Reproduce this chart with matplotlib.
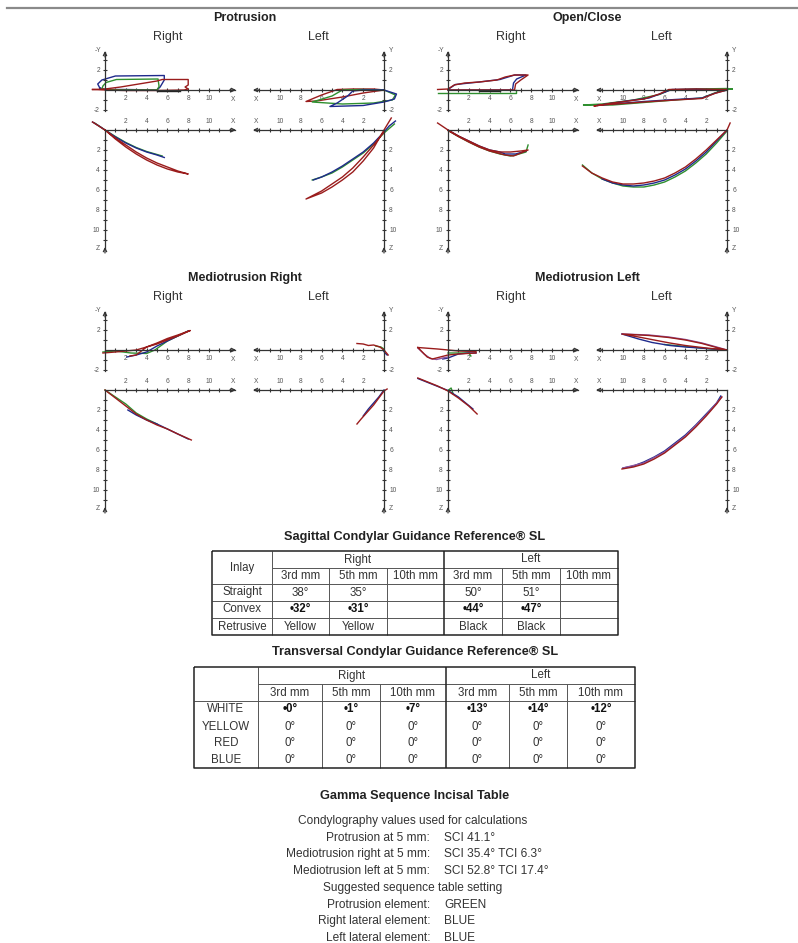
import matplotlib
matplotlib.use("Agg")
import matplotlib.pyplot as plt
import numpy as np

plt.rcParams['font.family'] = ['Liberation Sans', 'DejaVu Sans']
plt.rcParams['axes.unicode_minus'] = False

W, H = 798, 943
SX, SY = 10.4, 10.0      # pixels per mm on the condylography plots

RED = "#9a1c1c"
BLUE = "#1f2a8c"
GREEN = "#2f8f2f"
PURPLE = "#8c55a0"
BLACK = "#222222"
AXC = "#333333"
TXT = "#333333"

# ---- condylography traces, mm (x, y) top view / (x, z) sagittal view ----
# Protrusion
pr_rt_blue = ([-0.5, -0.7, -0.3, 1.0, 5.7, 5.7, 5.3, 5.0, 2.0, 0.0, -0.5],
              [0.2, 0.6, 1.0, 1.4, 1.45, 1.0, 0.3, 0.0, 0.05, 0.05, 0.2])
pr_rt_green = ([-0.3, -0.2, 0.1, 1.1, 5.1, 5.2, 5.0, 2.0, 0.0, -0.3],
               [0.1, 0.4, 0.75, 1.05, 1.1, 0.35, 0.0, 0.0, 0.05, 0.1])
pr_rt_red = ([-1.2, 0.0, 1.5, 5.0, 5.5, 8.0, 8.0, 7.7, 8.0, 7.6, 5.0, 2.0, 0.0, -1.2],
             [0.05, 0.1, 0.3, 0.9, 1.05, 1.05, 0.5, 0.3, 0.1, 0.0, -0.05, -0.05, 0.0, 0.05])
pr_rt_black = ([5.0, 7.2], [-0.08, -0.08])
pr_rb_blue = ([-1.2, -0.5, 0, 1, 2, 3, 4, 5, 5.7],
              [-0.8, -0.35, 0, 0.7, 1.3, 1.8, 2.2, 2.5, 2.75])
pr_rb_green = ([-1.0, 0, 1, 2, 3, 4, 5, 5.5],
               [-0.7, 0, 0.65, 1.25, 1.75, 2.15, 2.45, 2.6])
pr_rb_red = ([-1.2, 0, 1, 2, 3, 4, 5, 6, 7, 8, 7, 6, 5, 4, 3, 2, 1, 0],
             [-0.8, 0, 0.9, 1.7, 2.4, 3.0, 3.5, 3.9, 4.2, 4.4, 4.1, 3.7, 3.3, 2.8, 2.2, 1.5, 0.8, 0])
pr_lt_red = ([0, 1, 3, 4.5, 6, 7.5, 6.5, 4, 2, 0],
             [0, 0.1, 0.1, 0.05, -0.5, -1.15, -1.1, -0.7, -0.3, 0])
pr_lt_green = ([0, -1.1, -0.8, 1, 4, 6.9, 5, 4, 2, 0],
               [0, -0.5, -1.0, -1.3, -1.4, -1.2, -0.6, 0.0, 0.05, 0])
pr_lt_blue = ([0, -1.2, -1.0, 0, 2, 5.2, 4.5, 3.5, 3.0, 2, 0],
              [0, -0.4, -0.9, -1.2, -1.55, -1.65, -1.3, -0.6, -0.1, 0, 0])
pr_lb_blue = ([-1.1, -0.5, 0, 1, 2, 3, 4, 5, 6, 6.8],
              [-0.9, -0.4, 0.2, 1.3, 2.2, 2.9, 3.6, 4.2, 4.7, 5.0])
pr_lb_green = ([-1.0, 0, 1, 2, 3, 4, 5, 6, 6.9],
               [-0.6, 0.3, 1.4, 2.3, 3.0, 3.7, 4.3, 4.7, 5.0])
pr_lb_red = ([-0.7, 0, 1, 2, 3, 4, 5, 6, 7.5, 6, 5, 4, 3, 2, 1, 0],
             [-1.2, 0.0, 1.8, 3.1, 4.2, 5.0, 5.7, 6.3, 6.9, 6.1, 5.4, 4.7, 3.8, 2.7, 1.5, 0.2])

# Open/Close
oc_rt_red = ([-1.0, 0, 0.6, 1.6, 3.0, 4.7, 5.5, 6.4, 7.7, 7.0, 6.5, 6.4, 4.0, 0.0],
             [0.05, 0.1, 0.5, 0.7, 0.8, 1.0, 1.3, 1.5, 1.5, 1.0, 0.6, 0.0, 0.0, 0.0])
oc_rt_blue = ([0, 0.7, 3, 5, 6.4, 7.5, 6.6, 6.3, 6.2, 3, 0],
              [0.05, 0.55, 0.8, 1.05, 1.5, 1.5, 1.1, 0.7, 0.0, 0.0, 0.0])
oc_rt_green = ([-1.0, 0, 3, 6.5, 6.5], [-0.3, -0.3, -0.3, -0.3, 0.0])
oc_rt_black = ([3.0, 5.0], [-0.05, -0.05])
oc_lt_red = ([0, 1.2, 2.4, 5, 8, 12, 12.8, 11, 8, 6.5, 5.6, 3, 0],
             [0, -0.35, -0.85, -1.0, -1.2, -1.5, -1.6, -1.3, -0.9, -0.4, 0.05, 0.1, 0.05])
oc_lt_blue = ([0, 1.1, 2.4, 5, 8, 11, 12.5, 10, 7.5, 6.2, 5.3, 3, 0],
              [0, -0.3, -0.8, -0.95, -1.15, -1.4, -1.55, -1.15, -0.8, -0.3, 0.05, 0.08, 0])
oc_lt_green = ([-0.5, 0, 1.2, 2.4, 5, 8, 11, 13.8, 12, 9, 6.5, 5.5, 3, 0, -0.5],
               [0.1, 0.1, -0.3, -0.8, -1.0, -1.25, -1.5, -1.5, -1.4, -1.0, -0.45, 0.0, 0.1, 0.15, 0.1])
oc_rb_red = ([-1.0, 0, 1, 2, 3, 4, 5, 6, 7, 7.7, 7.0, 6.3, 5.5, 4, 3, 2, 1, 0],
             [-0.7, 0, 0.6, 1.1, 1.6, 2.0, 2.2, 2.2, 2.1, 2.0, 2.3, 2.6, 2.5, 2.1, 1.7, 1.2, 0.65, 0.05])
oc_rb_blue = ([0, 1, 2, 3, 4, 5, 5.5, 6.5, 7.5],
              [0, 0.6, 1.1, 1.6, 2.0, 2.2, 2.4, 2.4, 2.1])
oc_rb_green = ([0, 1, 2, 3, 4, 5, 6, 6.5, 7.5, 7.7],
               [0.05, 0.65, 1.2, 1.7, 2.1, 2.4, 2.6, 2.5, 2.2, 1.5])
oc_lb_red = ([-0.3, 0, 1, 2, 3, 4, 5, 6, 7, 8, 9, 10, 11, 12, 13, 13.9],
             [-0.7, 0, 1.0, 2.0, 2.9, 3.7, 4.3, 4.8, 5.1, 5.3, 5.4, 5.4, 5.2, 4.8, 4.3, 3.6])
oc_lb_blue = ([0, 1, 2, 3, 4, 5, 6, 7, 8, 9, 10, 11, 12],
              [0, 1.1, 2.2, 3.1, 3.9, 4.5, 5.0, 5.3, 5.5, 5.6, 5.5, 5.3, 4.9])
oc_lb_green = ([0, 1, 2, 3, 4, 5, 6, 7, 8, 9, 10, 11, 12, 13, 13.9],
               [0.1, 1.3, 2.4, 3.3, 4.1, 4.7, 5.2, 5.5, 5.7, 5.7, 5.6, 5.3, 4.9, 4.3, 3.5])

# Mediotrusion Right
mr_rt_red = ([-0.2, 1, 2, 3, 4, 5, 6, 7, 8.2, 7, 6, 5, 4, 3, 2.4],
             [-0.3, -0.2, -0.1, 0.0, 0.3, 0.6, 1.0, 1.4, 1.95, 1.5, 1.15, 0.7, 0.3, -0.5, -0.6])
mr_rt_green = ([-0.2, 1, 2.5, 4, 4.8, 6, 8], [-0.2, -0.1, -0.3, -0.35, 0.0, 0.9, 1.9])
mr_rt_blue = ([2.1, 3, 4, 5, 6, 7, 8], [-0.7, -0.5, -0.2, 0.4, 0.9, 1.4, 1.9])
mr_lt_red = ([2.6, 2.0, 1.5, 1.0, 0.4, 0.0, -0.4], [0.65, 0.6, 0.45, 0.5, 0.3, 0.0, -0.5])
mr_lt_green = ([0.8, 0.3, 0.0], [0.4, 0.3, 0.1])
mr_lt_blue = ([0.1, -0.1, -0.3], [0.0, -0.3, -0.5])
mr_rb_red = ([0, 1, 2, 3, 4, 5, 6, 7, 8.3], [0, 0.8, 1.6, 2.4, 3.0, 3.5, 3.9, 4.4, 5.0])
mr_rb_green = ([0, 1, 2, 3, 4, 5], [0, 0.7, 1.4, 2.3, 2.9, 3.4])
mr_rb_blue = ([2.2, 3, 4, 5, 6, 7, 8], [2.0, 2.5, 3.0, 3.4, 3.9, 4.4, 4.9])
mr_lb_red = ([-0.3, 0, 0.5, 1, 1.6, 2.2, 2.6], [-0.1, 0.1, 0.8, 1.5, 2.2, 2.9, 3.4])
mr_lb_blue = ([0, 0.5, 1, 1.5, 2], [0, 0.7, 1.3, 1.9, 2.6])

# Mediotrusion Left
ml_rt_red = ([-2.9, -1, 0, 1, 2.7, 2.7, 1, 0, -1.5, -2.0, -2.9],
             [0.25, 0.1, 0, -0.1, -0.15, -0.3, -0.4, -0.5, -0.9, -0.7, 0.25])
ml_rt_purple = ([-2.9, -2.3, -1.7, -1.1, -0.5, 0], [0.2, -0.4, -0.85, -0.95, -0.8, -0.7])
ml_rt_blue = ([-0.5, 0, 0.5, 1, 2, 2.7], [-0.9, -0.8, -0.6, -0.4, -0.3, -0.3])
ml_rt_green = ([0, 1, 2, 2.2], [-0.3, -0.3, -0.3, -0.6])
ml_lt_purple = ([0, 1, 2.4, 4, 5.6, 7.5, 10.1], [0, 0.3, 0.7, 1.05, 1.3, 1.5, 1.6])
ml_lt_blue = ([10.1, 8.5, 7.2, 5.5, 4, 2, 0], [1.6, 1.1, 0.75, 0.45, 0.3, 0.15, 0])
ml_lt_red = ([0, 1, 2.4, 4, 5.6, 7.5, 10.1, 8.5, 7, 5.5, 4, 2, 0],
             [0, 0.25, 0.65, 1.0, 1.25, 1.45, 1.6, 1.3, 1.0, 0.7, 0.45, 0.2, 0])
ml_lt_green = ([0, 1.5, 3, 4.5, 6], [0, 0.1, 0.25, 0.4, 0.55])
ml_rb_red = ([-2.9, -1, 0, 1, 2, 2.8], [-1.2, -0.4, 0.1, 0.8, 1.6, 2.4])
ml_rb_blue = ([-2.9, 0, 1, 2.4], [-1.15, 0.05, 0.7, 1.9])
ml_rb_green = ([0, 0.3, 0.5], [0.05, -0.2, 0.4])
ml_lb_red = ([0.5, 1, 2, 3, 4, 5, 6, 7, 8, 9, 10.1], [0.7, 1.4, 2.6, 3.7, 4.7, 5.5, 6.3, 6.9, 7.4, 7.7, 7.9])
ml_lb_blue = ([0.6, 1, 2, 3, 4, 5, 6, 7, 8, 9, 10], [0.6, 1.3, 2.4, 3.5, 4.5, 5.3, 6.1, 6.7, 7.2, 7.6, 7.8])
ml_lb_purple = ([0.5, 2, 4, 6, 8, 10], [0.7, 2.5, 4.6, 6.2, 7.3, 7.8])

group_titles = ["Protrusion", "Open/Close", "Mediotrusion Right", "Mediotrusion Left"]

# ---- tables ----
sag_title = "Sagittal Condylar Guidance Reference® SL"
sag_corner = "Inlay"
mm_cols = ["3rd mm", "5th mm", "10th mm"]
sag_rows = ["Straight", "Convex", "Retrusive"]
sag_right = [["38°", "35°", ""], ["•32°", "•31°", ""], ["Yellow", "Yellow", ""]]
sag_left = [["50°", "51°", ""], ["•44°", "•47°", ""], ["Black", "Black", ""]]
sag_bold = [False, True, False]

trv_title = "Transversal Condylar Guidance Reference® SL"
trv_rows = ["WHITE", "YELLOW", "RED", "BLUE"]
trv_right = [["•0°", "•1°", "•7°"], ["0°", "0°", "0°"], ["0°", "0°", "0°"], ["0°", "0°", "0°"]]
trv_left = [["•13°", "•14°", "•12°"], ["0°", "0°", "0°"], ["0°", "0°", "0°"], ["0°", "0°", "0°"]]
trv_bold = [True, False, False, False]

gamma_title = "Gamma Sequence Incisal Table"
gamma_head = "Condylography values used for calculations"
gamma_labels = ["Protrusion at 5 mm:", "Mediotrusion right at 5 mm:", "Mediotrusion left at 5 mm:"]
gamma_values = ["SCI 41.1°", "SCI 35.4° TCI 6.3°", "SCI 52.8° TCI 17.4°"]
gamma_sub = "Suggested sequence table setting"
seq_labels = ["Protrusion element:", "Right lateral element:", "Left lateral element:"]
seq_values = ["GREEN", "BLUE", "BLUE"]


def px_rect(left, top, w, h):
    return [left / W, 1 - (top + h) / H, w / W, h / H]


def make_panel(fig, ox, oy, left_side, top_view, traces):
    if left_side:
        xlim = (14.5, -3.5)
        lpx = ox - 14.5 * SX
    else:
        xlim = (-3.5, 14.5)
        lpx = ox - 3.5 * SX
    if top_view:
        ylim = (-3.0, 4.5)
        tpx = oy - 4.5 * SY
        hpx = 7.5 * SY
    else:
        ylim = (13.0, -1.5)
        tpx = oy - 1.5 * SY
        hpx = 14.5 * SY
    ax = fig.add_axes(px_rect(lpx, tpx, 18 * SX, hpx))
    ax.set_xlim(*xlim)
    ax.set_ylim(*ylim)
    ax.patch.set_visible(False)

    for col, (xs, ys) in traces:
        ax.plot(xs, ys, color=col, lw=1.0, solid_joinstyle='round', clip_on=False)

    for s in ax.spines.values():
        s.set_visible(False)
    xsp = ax.spines['bottom' if top_view else 'top']
    ysp = ax.spines['right' if left_side else 'left']
    xsp.set_visible(True)
    ysp.set_visible(True)
    xsp.set_position(('data', 0))
    ysp.set_position(('data', 0))
    xsp.set_bounds(0, 12.5)
    for sp in (xsp, ysp):
        sp.set_color(AXC)
        sp.set_linewidth(0.9)

    if top_view:
        ax.xaxis.tick_bottom()
        ysp.set_bounds(-2.1, 3.8)
        ax.set_yticks([-2, 2])
        ax.set_yticks([-1, 1, 3], minor=True)
        ytop = 3.8
        xlab_y = -0.95
        ylab = "Y" if left_side else "-Y"
    else:
        ax.xaxis.tick_top()
        ysp.set_bounds(0, 11.8)
        ax.set_yticks([2, 4, 6, 8, 10])
        ax.set_yticks(range(1, 12), minor=True)
        ytop = 11.8
        xlab_y = -0.85
        ylab = "Z"
    if left_side:
        ax.yaxis.tick_right()
    else:
        ax.yaxis.tick_left()
    ax.set_xticks([2, 4, 6, 8, 10])
    ax.set_xticks(range(1, 13), minor=True)
    ax.tick_params(which='both', direction='inout', length=3, width=0.8, color=AXC,
                   labelsize=4.8, labelcolor='#555555', pad=2.2)

    arrow = dict(arrowstyle='->', color=AXC, lw=0.9, shrinkA=0, shrinkB=0, mutation_scale=6)
    ax.annotate('', xy=(12.6, 0), xytext=(12.0, 0), arrowprops=arrow)
    ysign = 1 if top_view else -1
    ax.annotate('', xy=(0, ytop + 0.1 * ysign), xytext=(0, ytop - 0.5 * ysign), arrowprops=arrow)
    ax.text(12.3, xlab_y, "X", fontsize=4.8, color='#555555', ha='center', va='center')
    ax.text(-0.65, ytop + (0.1 if top_view else 0.0), ylab, fontsize=4.8, color='#555555',
            ha='center', va='center')
    return ax


def draw_table(ax, xs, ys, corner, rows, right, left, bold, inner_h):
    thin = dict(color="#555555", lw=0.7, solid_capstyle='butt')
    thick = dict(color="#222222", lw=1.1, solid_capstyle='butt')
    x0, x1, y0, y1 = xs[0], xs[-1], ys[0], ys[-1]
    ax.plot([xs[1], x1], [ys[1], ys[1]], **thin)
    ax.plot([x0, x1], [ys[2], ys[2]], **thin)
    if inner_h:
        for y in ys[3:-1]:
            ax.plot([x0, x1], [y, y], **thin)
    for i in (1, 2, 3, 5, 6):
        ax.plot([xs[i], xs[i]], [ys[1] if i != 1 else y0, y1], **thin)
    ax.plot([xs[4], xs[4]], [y0, y1], **thick)
    ax.plot([x0, x1, x1, x0, x0], [y0, y0, y1, y1, y0], **thick)

    fs = 8.3
    ax.text((x0 + xs[1]) / 2, (y0 + ys[2]) / 2, corner, ha='center', va='center', fontsize=fs, color=TXT)
    ax.text((xs[1] + xs[4]) / 2, (y0 + ys[1]) / 2, "Right", ha='center', va='center', fontsize=fs, color=TXT)
    ax.text((xs[4] + x1) / 2, (y0 + ys[1]) / 2, "Left", ha='center', va='center', fontsize=fs, color=TXT)
    for k in range(6):
        ax.text((xs[k + 1] + xs[k + 2]) / 2, (ys[1] + ys[2]) / 2, mm_cols[k % 3],
                ha='center', va='center', fontsize=fs, color=TXT)
    for r, name in enumerate(rows):
        yc = (ys[r + 2] + ys[r + 3]) / 2
        ax.text((x0 + xs[1]) / 2, yc, name, ha='center', va='center', fontsize=fs, color=TXT)
        vals = right[r] + left[r]
        for k, v in enumerate(vals):
            ax.text((xs[k + 1] + xs[k + 2]) / 2, yc, v, ha='center', va='center', fontsize=fs,
                    color='#111111' if bold[r] else TXT,
                    fontweight='bold' if bold[r] else 'normal')


def main():
    fig = plt.figure(figsize=(W / 100, H / 100), dpi=100)
    bg = fig.add_axes([0, 0, 1, 1])
    bg.set_xlim(0, W)
    bg.set_ylim(H, 0)
    bg.axis('off')

    bg.plot([7, W], [8, 8], color='#8a8a8a', lw=1.6)

    groups = [
        dict(rt=[(BLUE, pr_rt_blue), (GREEN, pr_rt_green), (RED, pr_rt_red), (BLACK, pr_rt_black)],
             lt=[(RED, pr_lt_red), (GREEN, pr_lt_green), (BLUE, pr_lt_blue)],
             rb=[(GREEN, pr_rb_green), (BLUE, pr_rb_blue), (RED, pr_rb_red)],
             lb=[(GREEN, pr_lb_green), (BLUE, pr_lb_blue), (RED, pr_lb_red)]),
        dict(rt=[(GREEN, oc_rt_green), (BLUE, oc_rt_blue), (RED, oc_rt_red), (BLACK, oc_rt_black)],
             lt=[(GREEN, oc_lt_green), (BLUE, oc_lt_blue), (RED, oc_lt_red)],
             rb=[(GREEN, oc_rb_green), (BLUE, oc_rb_blue), (RED, oc_rb_red)],
             lb=[(GREEN, oc_lb_green), (BLUE, oc_lb_blue), (RED, oc_lb_red)]),
        dict(rt=[(GREEN, mr_rt_green), (BLUE, mr_rt_blue), (RED, mr_rt_red)],
             lt=[(GREEN, mr_lt_green), (BLUE, mr_lt_blue), (RED, mr_lt_red)],
             rb=[(GREEN, mr_rb_green), (BLUE, mr_rb_blue), (RED, mr_rb_red)],
             lb=[(BLUE, mr_lb_blue), (RED, mr_lb_red)]),
        dict(rt=[(GREEN, ml_rt_green), (BLUE, ml_rt_blue), (PURPLE, ml_rt_purple), (RED, ml_rt_red)],
             lt=[(GREEN, ml_lt_green), (BLUE, ml_lt_blue), (PURPLE, ml_lt_purple), (RED, ml_lt_red)],
             rb=[(GREEN, ml_rb_green), (BLUE, ml_rb_blue), (RED, ml_rb_red)],
             lb=[(BLUE, ml_lb_blue), (PURPLE, ml_lb_purple), (RED, ml_lb_red)]),
    ]
    offsets = [(0, 0), (343, 0), (0, 260), (343, 260)]

    for title, g, (dx, dy) in zip(group_titles, groups, offsets):
        oxr, oxl = 105 + dx, 384 + dx
        oyt, oyb = 90 + dy, 130 + dy
        make_panel(fig, oxr, oyt, False, True, g['rt'])
        make_panel(fig, oxl, oyt, True, True, g['lt'])
        make_panel(fig, oxr, oyb, False, False, g['rb'])
        make_panel(fig, oxl, oyb, True, False, g['lb'])
        bg.text((oxr + oxl) / 2, 18 + dy, title, ha='center', va='center',
                fontsize=9, fontweight='bold', color='#222222')
        bg.text(oxr + 63, 37 + dy, "Right", ha='center', va='center', fontsize=9, color=TXT)
        bg.text(oxl - 66, 37 + dy, "Left", ha='center', va='center', fontsize=9, color=TXT)

    # sagittal table
    bg.text(415, 537, sag_title, ha='center', va='center', fontsize=9.2, fontweight='bold', color='#222222')
    draw_table(bg, [212, 272, 329, 387, 444, 502, 560, 618],
               [551, 568, 584, 601, 618, 635],
               sag_corner, sag_rows, sag_right, sag_left, sag_bold, True)

    # transversal table
    bg.text(415, 652, trv_title, ha='center', va='center', fontsize=9.2, fontweight='bold', color='#222222')
    draw_table(bg, [194, 258, 322, 380, 446, 509, 567, 635],
               [667, 684, 701, 718, 735, 752, 768],
               "", trv_rows, trv_right, trv_left, trv_bold, False)

    # gamma sequence
    bg.text(415, 796, gamma_title, ha='center', va='center', fontsize=9.2, fontweight='bold', color='#222222')
    step = 16.7
    y = 821
    bg.text(413, y, gamma_head, ha='center', va='center', fontsize=8.6, color=TXT)
    for lab, val in zip(gamma_labels, gamma_values):
        y += step
        bg.text(430, y, lab, ha='right', va='center', fontsize=8.6, color=TXT)
        bg.text(444, y, val, ha='left', va='center', fontsize=8.6, color=TXT)
    y += step
    bg.text(413, y, gamma_sub, ha='center', va='center', fontsize=8.6, color=TXT)
    for lab, val in zip(seq_labels, seq_values):
        y += step
        bg.text(430, y, lab, ha='right', va='center', fontsize=8.6, color=TXT)
        bg.text(444, y, val, ha='left', va='center', fontsize=8.6, color=TXT)

    fig.savefig("out.png", dpi=100)


if __name__ == "__main__":
    main()
